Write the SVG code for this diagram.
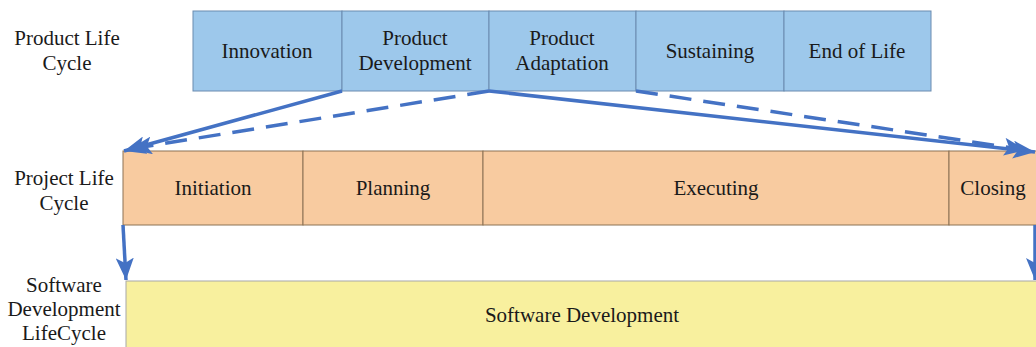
<svg xmlns="http://www.w3.org/2000/svg" width="1036" height="347" viewBox="0 0 1036 347">
<defs>
<style>
text{font-family:"Liberation Serif","DejaVu Serif","Times New Roman",serif;font-size:21px;fill:#1a1a1a;text-anchor:middle}
.b{fill:#9DC8EB;stroke:#6A8BB0;stroke-width:1}
.o{fill:#F8CBA0;stroke:#8C7355;stroke-width:1}
.y{fill:#F8F09E;stroke:#A8A8A8;stroke-width:1}
.c{fill:none;stroke:#4472C4;stroke-width:3.5}
.d{stroke-dasharray:22 12}
</style>
<marker id="ah" markerUnits="userSpaceOnUse" markerWidth="24" markerHeight="18" refX="22" refY="9" orient="auto">
<path d="M0,0 L22,9 L0,18 L5,9 Z" fill="#4472C4"/>
</marker>
</defs>
<rect width="1036" height="347" fill="#fff"/>
<g id="labels">
<text x="67" y="45">Product Life</text>
<text x="67" y="70">Cycle</text>
<text x="64" y="185">Project Life</text>
<text x="64" y="210">Cycle</text>
<text x="64" y="292">Software</text>
<text x="64" y="316">Development</text>
<text x="64" y="340">LifeCycle</text>
</g>
<g id="product-life-cycle">
<g id="innovation"><rect class="b" x="193" y="11" width="149" height="80"/><text x="267" y="58">Innovation</text></g>
<g id="product-development"><rect class="b" x="342" y="11" width="147" height="80"/><text x="415" y="45">Product</text><text x="415" y="70">Development</text></g>
<g id="product-adaptation"><rect class="b" x="489" y="11" width="147" height="80"/><text x="562" y="45">Product</text><text x="562" y="70">Adaptation</text></g>
<g id="sustaining"><rect class="b" x="636" y="11" width="148" height="80"/><text x="710" y="58">Sustaining</text></g>
<g id="end-of-life"><rect class="b" x="784" y="11" width="147" height="80"/><text x="857" y="58">End of Life</text></g>
</g>
<g id="project-life-cycle">
<g id="initiation"><rect class="o" x="123" y="151" width="180" height="74"/><text x="213" y="195">Initiation</text></g>
<g id="planning"><rect class="o" x="303" y="151" width="180" height="74"/><text x="393" y="195">Planning</text></g>
<g id="executing"><rect class="o" x="483" y="151" width="466" height="74"/><text x="716" y="195">Executing</text></g>
<g id="closing"><rect class="o" x="949" y="151" width="100" height="74"/><text x="993" y="195">Closing</text></g>
</g>
<g id="software-development">
<rect class="y" x="126" y="281" width="930" height="80"/>
<text x="582" y="322">Software Development</text>
</g>
<g id="connectors">
<line class="c" x1="342" y1="91" x2="124" y2="151" marker-end="url(#ah)"/>
<line class="c d" x1="489" y1="91" x2="130" y2="149" marker-end="url(#ah)"/>
<line class="c" x1="489" y1="91" x2="1035" y2="152" marker-end="url(#ah)"/>
<line class="c d" x1="636" y1="91" x2="1026" y2="150" marker-end="url(#ah)"/>
<line class="c" x1="123" y1="225" x2="126" y2="280" marker-end="url(#ah)"/>
<line class="c" x1="1035" y1="225" x2="1035" y2="280" marker-end="url(#ah)"/>
</g>
</svg>
